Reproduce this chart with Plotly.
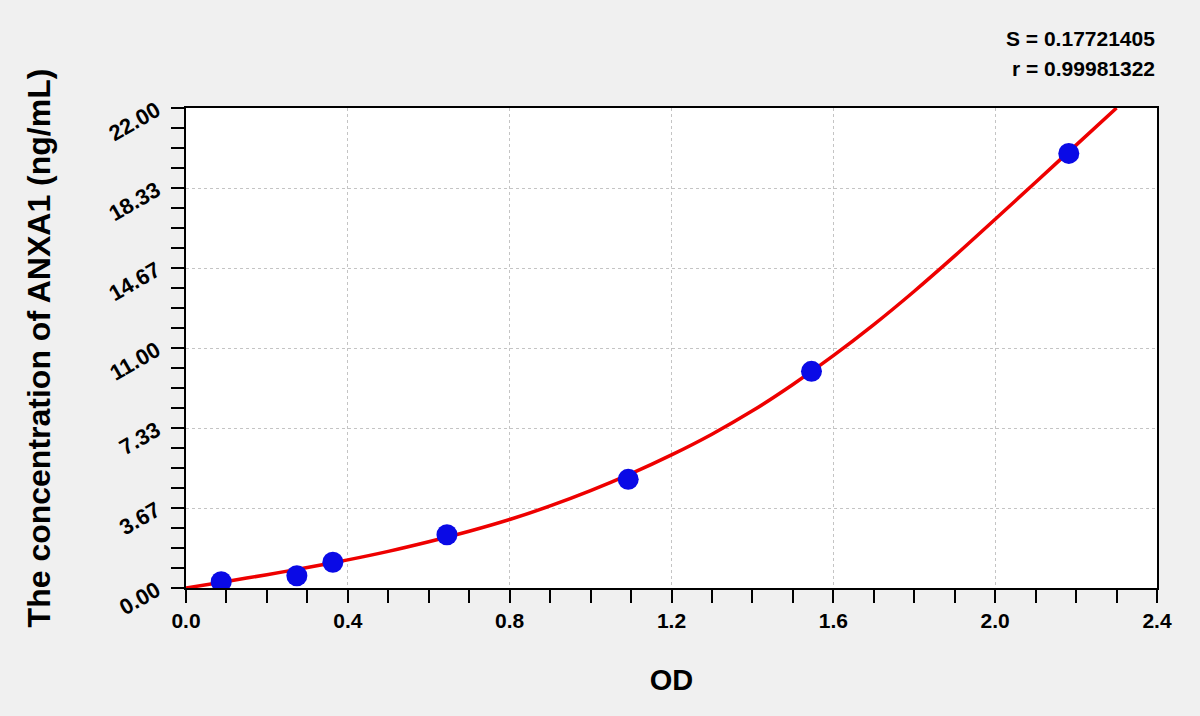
import plotly.graph_objects as go

# standard points
od_points = [0.087, 0.274, 0.363, 0.645, 1.093, 1.546, 2.182]
conc_points = [0.29, 0.56, 1.18, 2.44, 4.98, 9.93, 19.92]

# fitted curve, read at 0.1 OD steps
curve_od = [0.0, 0.1, 0.2, 0.3, 0.4, 0.5, 0.6, 0.7, 0.8, 0.9, 1.0, 1.1,
            1.2, 1.3, 1.4, 1.5, 1.6, 1.7, 1.8, 1.9, 2.0, 2.1, 2.2, 2.30]
curve_conc = [0.0, 0.30, 0.61, 0.94, 1.29, 1.68, 2.12, 2.60, 3.14, 3.76, 4.46, 5.24,
              6.10, 7.05, 8.12, 9.33, 10.65, 12.07, 13.60, 15.22, 16.90, 18.60, 20.30, 22.0]

y_tickvals = [0, 22 / 6, 44 / 6, 11, 88 / 6, 110 / 6, 22]
y_ticktext = ["0.00", "3.67", "7.33", "11.00", "14.67", "18.33", "22.00"]

stats_s = "S = 0.17721405"
stats_r = "r = 0.99981322"

font_family = "Arial, Liberation Sans, sans-serif"

fig = go.Figure()

fig.add_trace(go.Scatter(
    x=curve_od, y=curve_conc, mode="lines",
    line=dict(color="#ee0000", width=3.5, shape="spline", smoothing=0.8),
    hoverinfo="skip", showlegend=False,
))

fig.add_trace(go.Scatter(
    x=od_points, y=conc_points, mode="markers",
    marker=dict(color="#0a0ae6", size=21, line=dict(width=0)),
    showlegend=False,
))

axis_common = dict(
    showline=True, linecolor="black", linewidth=2, mirror=True,
    ticks="outside", ticklen=13, tickwidth=2, tickcolor="black",
    showgrid=True, gridcolor="#c4c4c4", griddash="dot", gridwidth=1,
    zeroline=False,
)

fig.update_layout(
    width=1200, height=716,
    paper_bgcolor="#f0f0f0", plot_bgcolor="white",
    margin=dict(l=186, r=43, t=108, b=128),
    font=dict(family=font_family, color="black"),
    xaxis=dict(
        range=[0, 2.4], dtick=0.4, tick0=0, tickformat=".1f",
        tickfont=dict(family=font_family, size=21, color="black", weight="bold"),
        minor=dict(dtick=0.1, tick0=0, ticks="outside", ticklen=13,
                   tickwidth=2, tickcolor="black", showgrid=False),
        title=dict(text="OD", standoff=38,
                   font=dict(family=font_family, size=29, weight="bold")),
        **axis_common,
    ),
    yaxis=dict(
        range=[0, 22], tickmode="array", tickvals=y_tickvals, ticktext=y_ticktext,
        tickangle=-30, ticklabelstandoff=10,
        tickfont=dict(family=font_family, size=22, color="black", weight="bold"),
        minor=dict(dtick=22 / 24, tick0=0, ticks="outside", ticklen=13,
                   tickwidth=2, tickcolor="black", showgrid=False),
        title=dict(text="The concentration of ANXA1 (ng/mL)", standoff=44,
                   font=dict(family=font_family, size=32, weight="bold")),
        **axis_common,
    ),
    annotations=[
        dict(text=stats_s, xref="paper", yref="paper", x=1.0, y=1.0,
             xanchor="right", yanchor="bottom", yshift=56, showarrow=False,
             font=dict(family=font_family, size=21, weight="bold")),
        dict(text=stats_r, xref="paper", yref="paper", x=1.0, y=1.0,
             xanchor="right", yanchor="bottom", yshift=26, showarrow=False,
             font=dict(family=font_family, size=21, weight="bold")),
    ],
)

fig.write_html("out.html", config={"displayModeBar": False},
               post_script="document.body.style.margin = '0';")
